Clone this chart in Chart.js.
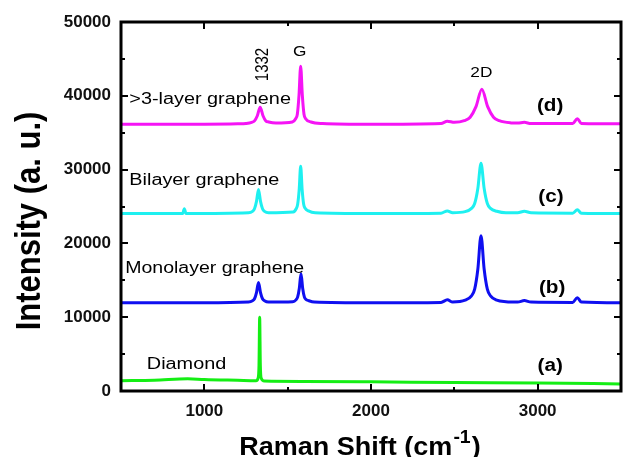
<!DOCTYPE html>
<html>
<head>
<meta charset="utf-8">
<script src="https://cdn.jsdelivr.net/npm/chart.js@4"></script>
<style>
  html, body { margin: 0; padding: 0; background: #fff; }
  #wrap { width: 623px; height: 457px; position: relative; }
</style>
</head>
<body>
<div id="wrap"><canvas id="ramanChart"></canvas></div>
<script>
// ============================================================
// RAMAN SPECTRA — diamond / mono / bi / multilayer graphene
// ============================================================

const X_MIN = 500;
const X_MAX = 3500;
const Y_MIN = 0;
const Y_MAX = 50000;

// (a) Diamond
const diamondX = [500, 700, 900, 1000, 1200, 1310, 1322, 1328, 1332, 1336, 1342, 1360, 1600, 2000, 2500, 3000, 3500];
const diamondY = [1400, 1450, 1650, 1550, 1450, 1400, 1700, 3500, 10000, 3500, 1700, 1350, 1300, 1250, 1150, 1100, 950];

// (b) Monolayer graphene
const monoX = [500, 1000, 1265, 1289, 1301, 1313, 1325, 1337, 1349, 1361, 1385, 1530, 1550, 1560, 1570, 1580, 1590, 1600, 1610, 1625, 1660,
  2000, 2420, 2458, 2490, 2565, 2603, 2622, 2641, 2660, 2679, 2698, 2717, 2755, 2810, 2880, 2920, 2960, 3210, 3238, 3262, 3500];
const monoY = [11950, 11950, 12050, 12230, 12500, 13330, 14700, 13330, 12500, 12230, 12050, 12100, 12350, 12750, 13930, 15900, 13930, 12750, 12400, 12250, 12050,
  11950, 12000, 12350, 12050, 12300, 12900, 13800, 16500, 21050, 16500, 13800, 12900, 12300, 12100, 12050, 12250, 12050, 12000, 12650, 12050, 11950];

// (c) Bilayer graphene
const biX = [500, 870, 880, 890, 1265, 1289, 1301, 1313, 1325, 1337, 1349, 1361, 1385, 1533, 1551, 1560, 1569, 1578, 1587, 1596, 1605, 1625, 1665,
  2000, 2420, 2458, 2490, 2565, 2603, 2622, 2641, 2660, 2679, 2698, 2717, 2755, 2810, 2880, 2920, 2960, 3210, 3238, 3262, 3500];
const biY = [24050, 24050, 24700, 24050, 24150, 24350, 24700, 25700, 27300, 25700, 24700, 24350, 24150, 24250, 24700, 25300, 27250, 30450, 27250, 25300, 24750, 24400, 24150,
  24050, 24100, 24400, 24150, 24300, 24750, 25400, 27450, 30850, 27450, 25400, 24750, 24350, 24150, 24150, 24350, 24150, 24100, 24550, 24100, 24050];

// (d) >3-layer graphene
const multiX = [500, 1000, 1200, 1250, 1284, 1301, 1318, 1335, 1352, 1369, 1386, 1430, 1528, 1548, 1558, 1568, 1578, 1588, 1598, 1608, 1640, 1710,
  2000, 2420, 2458, 2500, 2560, 2595, 2630, 2665, 2700, 2735, 2770, 2840, 2880, 2920, 2960, 3210, 3238, 3262, 3500];
const multiY = [36150, 36150, 36200, 36250, 36400, 36600, 37300, 38450, 37300, 36600, 36450, 36300, 36450, 36900, 37500, 40050, 44000, 40050, 37500, 36900, 36450, 36250,
  36150, 36250, 36550, 36400, 36630, 37100, 38530, 40900, 38530, 37100, 36630, 36330, 36300, 36400, 36250, 36250, 36900, 36250, 36200];

const SERIES = [
  { label: "Diamond", xs: diamondX, ys: diamondY, color: "#14ee14" },
  { label: "Monolayer graphene", xs: monoX, ys: monoY, color: "#0f0ff0" },
  { label: "Bilayer graphene", xs: biX, ys: biY, color: "#1ef0f0" },
  { label: ">3-layer graphene", xs: multiX, ys: multiY, color: "#f514f5" },
];

const X_LABEL_TICKS = [1000, 2000, 3000];
const Y_LABEL_TICKS = [0, 10000, 20000, 30000, 40000, 50000];

// text annotations placed in data coordinates
const ANNOTATIONS = [
  { text: ">3-layer graphene", x: 550, y: 39500, align: "left", font: "16px", sx: 1.24 },
  { text: "Bilayer graphene", x: 550, y: 28450, align: "left", font: "16px", sx: 1.24 },
  { text: "Monolayer graphene", x: 525, y: 16530, align: "left", font: "16px", sx: 1.22 },
  { text: "Diamond", x: 655, y: 3520, align: "left", font: "16px", sx: 1.24 },
  { text: "1332", x: 1350, y: 44240, align: "center", font: "15px", sx: 1.2, rotate: true },
  { text: "G", x: 1572, y: 45930, align: "center", font: "15px", sx: 1.15 },
  { text: "2D", x: 2662, y: 43090, align: "center", font: "15px", sx: 1.15 },
  { text: "(d)", x: 3075, y: 38620, align: "center", font: "bold 18px", sx: 1.15 },
  { text: "(c)", x: 3080, y: 26290, align: "center", font: "bold 18px", sx: 1.15 },
  { text: "(b)", x: 3087, y: 13960, align: "center", font: "bold 18px", sx: 1.15 },
  { text: "(a)", x: 3075, y: 3390, align: "center", font: "bold 18px", sx: 1.15 },
];

const FONT = '"Liberation Sans", Arial, sans-serif';

const toPoints = (xs, ys) => xs.map((x, i) => ({ x, y: ys[i] }));

// frame, inward ticks, annotations and axis titles
const decorPlugin = {
  id: "decor",
  afterDatasetsDraw(chart) {
    const { ctx, chartArea: a, scales } = chart;
    const xs = scales.x;
    const ys = scales.y;
    ctx.save();
    ctx.strokeStyle = "#000";
    ctx.lineWidth = 2;
    for (let v = X_MIN; v <= X_MAX; v += 500) {
      const px = Math.round(xs.getPixelForValue(v));
      const len = v % 1000 === 0 ? 7 : 4;
      ctx.beginPath();
      ctx.moveTo(px, a.bottom); ctx.lineTo(px, a.bottom - len);
      ctx.moveTo(px, a.top); ctx.lineTo(px, a.top + len);
      ctx.stroke();
    }
    for (let v = Y_MIN; v <= Y_MAX; v += 5000) {
      const py = Math.round(ys.getPixelForValue(v));
      const len = v % 10000 === 0 ? 7 : 4;
      ctx.beginPath();
      ctx.moveTo(a.left, py); ctx.lineTo(a.left + len, py);
      ctx.moveTo(a.right, py); ctx.lineTo(a.right - len, py);
      ctx.stroke();
    }
    ctx.lineWidth = 3;
    ctx.strokeRect(a.left, a.top, a.right - a.left, a.bottom - a.top);

    ctx.fillStyle = "#000";
    ctx.textBaseline = "middle";
    ANNOTATIONS.forEach((n) => {
      const px = xs.getPixelForValue(n.x);
      const py = ys.getPixelForValue(n.y);
      ctx.save();
      ctx.translate(px, py);
      ctx.scale(n.sx, 1);
      if (n.rotate) ctx.rotate(-Math.PI / 2);
      ctx.font = `${n.font} ${FONT}`;
      ctx.textAlign = n.rotate ? "center" : n.align;
      ctx.fillText(n.text, 0, 0);
      ctx.restore();
    });

    // y title
    ctx.save();
    ctx.translate(30, 221);
    ctx.scale(1.15, 1);
    ctx.rotate(-Math.PI / 2);
    ctx.font = `bold 31px ${FONT}`;
    ctx.textAlign = "center";
    ctx.fillText("Intensity (a. u.)", 0, 0);
    ctx.restore();

    // x title with superscript
    ctx.save();
    ctx.textBaseline = "alphabetic";
    ctx.textAlign = "left";
    const main = "Raman Shift (cm";
    const sup = "-1";
    ctx.font = `bold 25px ${FONT}`;
    const wMain = ctx.measureText(main).width;
    const wClose = ctx.measureText(")").width;
    ctx.font = `bold 18px ${FONT}`;
    const wSup = ctx.measureText(sup).width;
    const sx = 1.08;
    const total = (wMain + wSup + 2 + wClose) * sx;
    ctx.translate(360 - total / 2, 455);
    ctx.scale(sx, 1);
    ctx.font = `bold 25px ${FONT}`;
    ctx.fillText(main, 0, 0);
    ctx.font = `bold 18px ${FONT}`;
    ctx.fillText(sup, wMain + 1, -12);
    ctx.font = `bold 25px ${FONT}`;
    ctx.fillText(")", wMain + wSup + 2, 0);
    ctx.restore();

    ctx.restore();
  },
};

const buildChartConfig = () => ({
  type: "line",
  data: {
    datasets: SERIES.map((s) => ({
      label: s.label,
      data: toPoints(s.xs, s.ys),
      borderColor: s.color,
      backgroundColor: s.color,
      borderWidth: 3,
      pointRadius: 0,
      fill: false,
      cubicInterpolationMode: "monotone",
    })),
  },
  options: {
    responsive: true,
    maintainAspectRatio: false,
    animation: false,
    layout: { padding: { top: 22, right: 2, left: 0, bottom: 0 } },
    plugins: {
      legend: { display: false },
      tooltip: { enabled: false },
    },
    scales: {
      x: {
        type: "linear",
        min: X_MIN,
        max: X_MAX,
        grid: { display: false, drawTicks: false },
        border: { display: false },
        afterFit: (s) => { s.height = 66; },
        afterBuildTicks: (s) => { s.ticks = X_LABEL_TICKS.map((v) => ({ value: v })); },
        ticks: {
          padding: 10,
          color: "#111",
          maxRotation: 0,
          callback: (v) => String(v),
          font: { family: FONT, size: 17, weight: "bold" },
        },
      },
      y: {
        min: Y_MIN,
        max: Y_MAX,
        grid: { display: false, drawTicks: false },
        border: { display: false },
        afterFit: (s) => { s.width = 121; },
        afterBuildTicks: (s) => { s.ticks = Y_LABEL_TICKS.map((v) => ({ value: v })); },
        ticks: {
          padding: 10,
          color: "#111",
          callback: (v) => String(v),
          font: { family: FONT, size: 17, weight: "bold" },
        },
      },
    },
  },
  plugins: [decorPlugin],
});

new Chart(document.getElementById("ramanChart").getContext("2d"), buildChartConfig());
</script>
</body>
</html>
